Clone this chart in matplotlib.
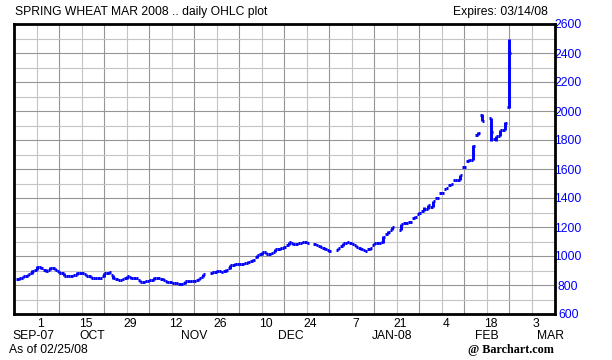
import numpy as np
import pandas as pd
import matplotlib
matplotlib.use("Agg")
import matplotlib.pyplot as plt
from matplotlib.collections import LineCollection
from matplotlib.transforms import ScaledTranslation, blended_transform_factory

plt.rcParams.update({
    "font.family": "Liberation Sans",
    "font.size": 8.7,
})

# trading days shown (MGEX holidays left as gaps)
HOLIDAYS = ["2007-11-22", "2007-12-25", "2008-01-01", "2008-01-21", "2008-02-18"]
dates = pd.bdate_range("2007-09-25", "2008-02-25")
dates = dates[~dates.isin(pd.to_datetime(HOLIDAYS))]

opens = [838, 850, 865, 880,
         905, 922, 905, 905, 915, 895, 880, 865, 862, 872, 885, 875, 860, 848, 845,
         860, 880, 870, 840, 835, 845, 855, 845,
         835, 822, 828, 835, 848, 842, 828, 818, 815, 810, 812, 826, 828, 835, 855,
         880, 892, 898, 895, 915, 940,
         948, 945, 955, 965, 990, 1012, 1025, 1015, 1030, 1045, 1055, 1075, 1090, 1085,
         1092, 1095, 1080, 1072, 1055, 1040,
         1042, 1070, 1092, 1090, 1075, 1055, 1040, 1045, 1075, 1090, 1095, 1155, 1180,
         1182, 1225, 1232, 1265, 1290, 1312, 1325, 1340,
         1400, 1435, 1465, 1490, 1522, 1524, 1612, 1655, 1664, 1835, 1975,
         1950, 1810, 1830, 1872, 2025]
highs = [848, 862, 878, 902,
         928, 925, 908, 922, 918, 898, 882, 868, 872, 888, 888, 878, 862, 850, 848,
         882, 890, 872, 842, 840, 862, 858, 848,
         837, 828, 835, 852, 852, 845, 830, 820, 817, 812, 828, 830, 832, 850, 878,
         892, 903, 900, 908, 938, 950,
         950, 952, 965, 978, 1010, 1030, 1028, 1020, 1048, 1058, 1068, 1098, 1093, 1092,
         1100, 1098, 1082, 1074, 1057, 1042,
         1054, 1092, 1100, 1093, 1078, 1058, 1042, 1057, 1092, 1095, 1140, 1170, 1200,
         1222, 1232, 1240, 1273, 1301, 1340, 1352, 1380,
         1405, 1439, 1469, 1496, 1526, 1560, 1618, 1666, 1765, 1852, 1978,
         1955, 1830, 1872, 1922, 2495]
lows = [836, 848, 862, 878,
        903, 912, 893, 903, 902, 883, 863, 860, 860, 870, 878, 863, 846, 843, 843,
        858, 878, 843, 833, 833, 843, 843, 842,
        820, 820, 826, 833, 843, 833, 816, 813, 810, 803, 810, 824, 826, 833, 853,
        878, 890, 890, 893, 913, 938,
        943, 943, 953, 963, 988, 1010, 1013, 1013, 1028, 1043, 1053, 1073, 1078, 1083,
        1090, 1088, 1074, 1063, 1043, 1030,
        1040, 1068, 1090, 1083, 1061, 1043, 1033, 1043, 1073, 1088, 1090, 1153, 1178,
        1178, 1222, 1230, 1263, 1288, 1310, 1322, 1335,
        1398, 1433, 1463, 1488, 1520, 1522, 1610, 1652, 1660, 1833, 1928,
        1795, 1795, 1826, 1868, 2020]
closes = [845, 860, 875, 900,
          925, 915, 895, 920, 905, 885, 865, 862, 870, 885, 880, 865, 848, 845, 846,
          880, 888, 845, 835, 838, 860, 845, 845,
          822, 825, 832, 850, 845, 835, 818, 815, 812, 805, 826, 828, 830, 848, 876,
          890, 900, 892, 905, 935, 948,
          945, 950, 962, 975, 1008, 1028, 1015, 1018, 1045, 1055, 1065, 1095, 1080, 1090,
          1098, 1090, 1076, 1065, 1045, 1032,
          1052, 1090, 1098, 1085, 1063, 1045, 1035, 1055, 1090, 1092, 1133, 1168, 1198,
          1218, 1230, 1237, 1271, 1299, 1322, 1350, 1378,
          1403, 1437, 1467, 1494, 1524, 1557, 1616, 1664, 1760, 1848, 1930,
          1857, 1828, 1869, 1919, 2398]

Y_TICKS = list(range(600, 2700, 200))
DAY_LABELS = ["1", "15", "29", "12", "26", "10", "24", "7", "21", "4", "18", "3"]
MONTH_LABELS = ["SEP-07", "OCT", "NOV", "DEC", "JAN-08", "FEB", "MAR"]

BLUE = "#0000ff"
W, H = 612, 360

x = np.busday_count(np.datetime64("2007-10-01"), dates.values.astype("datetime64[D]")).astype(float)

fig = plt.figure(figsize=(W / 100, H / 100), dpi=100)
ax = fig.add_axes([14 / W, (H - 314) / H, (555 - 14) / W, (314 - 24) / H])

# grid: weekly verticals, 100-pt horizontals, every other one darker
mondays = np.arange(-5, 115, 5)
for m in mondays:
    dark = (m // 5) % 2 == 1
    ax.axvline(m, color="#959595" if dark else "#c4c4c4", lw=0.8, zorder=0)
for v in range(700, 2600, 100):
    ax.axhline(v, color="#959595" if v % 200 == 0 else "#c4c4c4", lw=0.8, zorder=0)

# OHLC bars
half = 0.5
segs = []
for xi, o, h, l, c in zip(x, opens, highs, lows, closes):
    segs.append([(xi, l), (xi, h)])
    segs.append([(xi - half, o), (xi, o)])
    segs.append([(xi, c), (xi + half, c)])
ax.add_collection(LineCollection(segs, colors=BLUE, linewidths=2.1, capstyle="butt", zorder=3))

ax.set_xlim(-5.04, 115.2)
ax.set_ylim(600, 2600)

for s in ax.spines.values():
    s.set_linewidth(2.0)
    s.set_color("black")

# right-hand price scale
ax.yaxis.tick_right()
ax.set_yticks(Y_TICKS)
ax.tick_params(axis="y", length=0, pad=9.5, labelcolor=BLUE, labelsize=8.7)
for lbl in ax.get_yticklabels():
    lbl.set_horizontalalignment("center")

# day ticks every other Monday
label_days = np.arange(0, 115, 10)
ax.set_xticks(label_days)
ax.set_xticklabels(DAY_LABELS)
ax.tick_params(axis="x", length=0, pad=3, labelsize=8.7)
for lbl in ax.get_xticklabels():
    lbl.set_transform(lbl.get_transform() + ScaledTranslation(4 / 100, 0, fig.dpi_scale_trans))

month_x = [-0.8, 12.3, 35.1, 56.5, 79.0, 100.1, 114.3]
trans = blended_transform_factory(ax.transData, fig.transFigure)
for mx, name in zip(month_x, MONTH_LABELS):
    ax.text(mx, 1 - 336 / H, name, transform=trans, ha="center", va="center",
            fontsize=8.7, clip_on=False)

fig.text(15 / W, 1 - 12 / H, "SPRING WHEAT MAR 2008 .. daily OHLC plot", ha="left", va="center", fontsize=8.7)
fig.text(548 / W, 1 - 12 / H, "Expires: 03/14/08", ha="right", va="center", fontsize=8.7)
fig.text(9 / W, 1 - 350 / H, "As of 02/25/08", ha="left", va="center", fontsize=8.7)
fig.text(554 / W, 1 - 350 / H, "@ Barchart.com", ha="right", va="center", fontsize=8.7,
         family="Liberation Serif", fontweight="bold")

fig.savefig("out.png", dpi=100)
